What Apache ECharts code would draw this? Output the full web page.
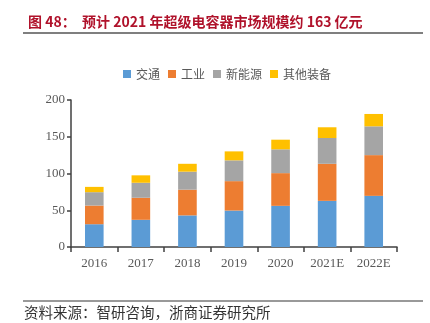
<!DOCTYPE html>
<html><head><meta charset="utf-8">
<script src="https://cdn.jsdelivr.net/npm/echarts@6/dist/echarts.min.js"></script>
<style>html,body{margin:0;padding:0;background:#fff}#c{width:430px;height:323px}</style>
</head><body><div id="c"></div>
<script>
const categories = ['2016','2017','2018','2019','2020','2021E','2022E'];
const transport = [31, 37, 43, 49.6, 56, 62.8, 69.6];
const industry = [25.4, 30, 35, 40, 44.5, 50.4, 55.4];
const newEnergy = [18.2, 20.4, 24.5, 28.3, 32.4, 35.1, 39.2];
const otherEquip = [7.2, 10.1, 10.7, 12.2, 13.1, 14.6, 16.8];
const seriesNames = ['交通','工业','新能源','其他装备'];
const yTicks = [0, 50, 100, 150, 200];
const colors = ['#5b9bd5','#ed7d31','#a5a5a5','#ffc000'];

const chart = echarts.init(document.getElementById('c'));
const cjk = '"Noto Sans CJK SC", sans-serif';
const serif = '"Liberation Serif", "DejaVu Serif", serif';
const mk = (name, data, i) => ({
  name, type: 'bar', stack: 'a', data, barWidth: '40%',
  itemStyle: {color: colors[i]}
});
chart.setOption({
  animation: false,
  title: {
    text: '图 48：  预计 2021 年超级电容器市场规模约 163 亿元',
    left: 23, top: 10,
    textStyle: {fontFamily: cjk, fontSize: 14, fontWeight: 'bold', color: '#b0122b'}
  },
  legend: {
    data: seriesNames, left: 118, top: 63, itemWidth: 8, itemHeight: 8, itemGap: 8,
    icon: 'rect',
    textStyle: {fontFamily: cjk, fontSize: 12, color: '#595959'}
  },
  grid: {left: 71, right: 33, top: 100, bottom: 76},
  xAxis: {
    type: 'category', data: categories,
    axisLine: {lineStyle: {color: '#404040', width: 1.5}},
    axisTick: {show: true, length: 5, lineStyle: {color: '#404040', width: 1.5}},
    axisLabel: {fontFamily: serif, fontSize: 13, color: '#595959', margin: 10}
  },
  yAxis: {
    type: 'value', min: yTicks[0], max: yTicks[yTicks.length-1], interval: 50,
    axisLine: {show: true, lineStyle: {color: '#404040', width: 1.5}},
    axisTick: {show: true, length: 4, lineStyle: {color: '#404040', width: 1.5}},
    splitLine: {show: false},
    axisLabel: {fontFamily: serif, fontSize: 13, color: '#595959', margin: 6}
  },
  series: [mk(seriesNames[0], transport, 0), mk(seriesNames[1], industry, 1), mk(seriesNames[2], newEnergy, 2), mk(seriesNames[3], otherEquip, 3)],
  graphic: [
    {type: 'line', shape: {x1: 23, y1: 33, x2: 423, y2: 33}, style: {stroke: '#555', lineWidth: 1.5}},
    {type: 'line', shape: {x1: 23, y1: 301, x2: 423, y2: 301}, style: {stroke: '#999', lineWidth: 2}},
    {type: 'text', left: 24, top: 305, style: {text: '资料来源：智研咨询，浙商证券研究所', font: '14.5px "Noto Sans CJK SC"', fill: '#333'}}
  ]
});
</script></body></html>
